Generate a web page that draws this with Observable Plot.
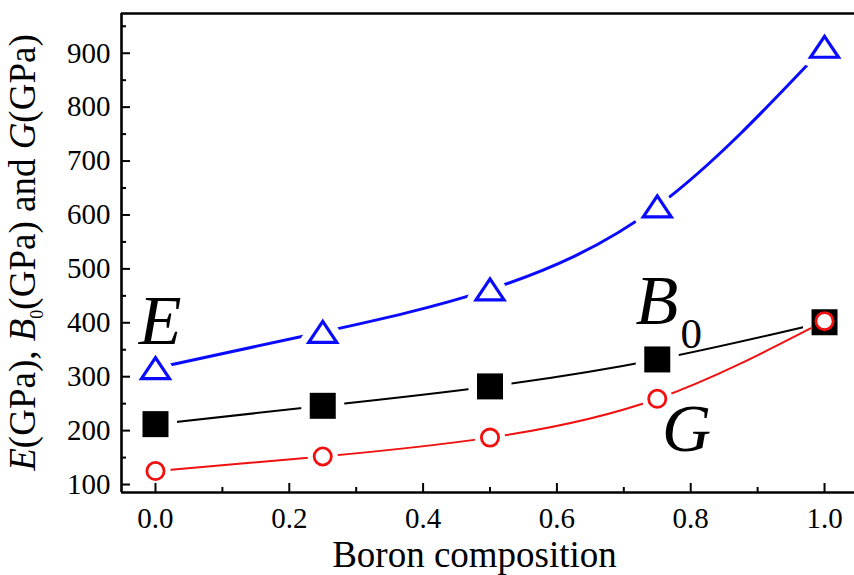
<!DOCTYPE html>
<html><head><meta charset="utf-8">
<script src="https://cdn.jsdelivr.net/npm/d3@7"></script>
<script src="https://cdn.jsdelivr.net/npm/@observablehq/plot@0.6"></script>
<style>body{margin:0;background:#fff} svg{display:block} svg text, svg tspan{font-family:"Liberation Serif","Times New Roman",serif !important;}</style>
</head><body><div id="chart"></div>
<script>
const boron = [0, 0.25, 0.5, 0.75, 1.0];
const E = [316, 383, 462, 616, 912];
const B0 = [212, 246, 282, 332, 401];
const G = [125, 152, 187, 259, 403];
const xMajor = [0, 0.2, 0.4, 0.6, 0.8, 1.0];
const xMinor = [0.1, 0.3, 0.5, 0.7, 0.9];
const yMajor = [100, 200, 300, 400, 500, 600, 700, 800, 900];
const yMinor = [150, 250, 350, 450, 550, 650, 750, 850, 950];

const rowsE = boron.map((b, i) => ({b, v: E[i]}));
const rowsB = boron.map((b, i) => ({b, v: B0[i]}));
const rowsG = boron.map((b, i) => ({b, v: G[i]}));

const X0 = -0.0508, X1 = 1.0448, Y0 = 85.2, Y1 = 973.7;
const FONT = "Liberation Serif, Times New Roman, serif";
const BLUE = "#0a0aff", RED = "#f01010";

const tri = {draw(ctx, size) { const r = Math.sqrt(size / Math.PI);
  ctx.moveTo(0, -0.75 * r); ctx.lineTo(r, 0.75 * r); ctx.lineTo(-r, 0.75 * r); ctx.closePath(); }};
const sq = {draw(ctx, size) { const r = Math.sqrt(size / Math.PI);
  ctx.rect(-r, -r, 2 * r, 2 * r); }};

const plot = Plot.plot({
  width: 854, height: 575,
  marginLeft: 121, marginRight: 0, marginTop: 13, marginBottom: 83,
  style: {fontFamily: FONT, background: "white", color: "black"},
  x: {domain: [X0, X1]},
  y: {domain: [Y0, Y1]},
  marks: [
    Plot.line(rowsB, {x: "b", y: "v", curve: "natural", stroke: "black", strokeWidth: 2}),
    Plot.dot(rowsB, {x: "b", y: "v", symbol: sq, r: 13, fill: "white", stroke: "white", strokeWidth: 17}),
    Plot.line(rowsG, {x: "b", y: "v", curve: "natural", stroke: RED, strokeWidth: 2}),
    Plot.dot(rowsG, {x: "b", y: "v", r: 8.6, fill: "white", stroke: "white", strokeWidth: 13}),
    Plot.line(rowsE, {x: "b", y: "v", curve: "natural", stroke: BLUE, strokeWidth: 3}),
    Plot.dot(rowsE, {x: "b", y: "v", symbol: tri, r: 14, fill: "white", stroke: "white", strokeWidth: 18, strokeLinejoin: "round"}),
    Plot.dot(rowsB, {x: "b", y: "v", symbol: sq, r: 13, fill: "black", stroke: "none"}),
    Plot.dot(rowsG, {x: "b", y: "v", r: 8.6, fill: "white", stroke: RED, strokeWidth: 2.8}),
    Plot.dot(rowsE, {x: "b", y: "v", symbol: tri, r: 14, fill: "none", stroke: BLUE, strokeWidth: 3.2}),
    // axes: ticks pointing inward
    Plot.axisX({ticks: xMajor, tickSize: 9, dy: -9, tickFormat: () => "", strokeWidth: 2, label: null}),
    Plot.axisX({ticks: xMinor, tickSize: 5, dy: -5, tickFormat: () => "", strokeWidth: 2, label: null}),
    Plot.axisX({ticks: xMajor, tickSize: 0, tickPadding: 15, tickFormat: d3.format(".1f"), fontSize: 29, fontFamily: FONT, fontVariant: "normal", label: null}),
    Plot.axisY({ticks: yMajor, tickSize: 9, dx: 9, tickFormat: () => "", strokeWidth: 2, label: null}),
    Plot.axisY({ticks: yMinor, tickSize: 5, dx: 5, tickFormat: () => "", strokeWidth: 2, label: null}),
    Plot.axisY({ticks: yMajor, tickSize: 0, tickPadding: 11, fontSize: 29, fontFamily: FONT, fontVariant: "normal", label: null}),
    Plot.ruleX([X0], {stroke: "black", strokeWidth: 2.6}),
    Plot.ruleY([Y0], {stroke: "black", strokeWidth: 2.6}),
    Plot.ruleY([Y1], {stroke: "black", strokeWidth: 2.6}),
    // annotations
    Plot.text(["E"], {x: -0.025, y: 361, text: d => d, textAnchor: "start", lineAnchor: "bottom", fontSize: 70, fontStyle: "italic", fontFamily: FONT, fill: "black"}),
    Plot.text(["B"], {x: 0.7175, y: 397, text: d => d, textAnchor: "start", lineAnchor: "bottom", fontSize: 70, fontStyle: "italic", fontFamily: FONT, fill: "black"}),
    Plot.text(["0"], {x: 0.7848, y: 354, text: d => d, textAnchor: "start", lineAnchor: "bottom", fontSize: 43, fontFamily: FONT, fill: "black"}),
    Plot.text(["G"], {x: 0.757, y: 162, text: d => d, textAnchor: "start", lineAnchor: "bottom", fontSize: 68, fontStyle: "italic", fontFamily: FONT, fill: "black"}),
    Plot.text(["Boron composition"], {frameAnchor: "bottom", dx: -13.5, dy: 74, lineAnchor: "bottom", fontSize: 37, fontFamily: FONT, fill: "black"})
  ]
});

// y-axis title with mixed italic and subscript
const svg = d3.select(plot);
const t = svg.append("text")
  .attr("transform", "translate(35,252.5) rotate(-90)")
  .attr("text-anchor", "middle")
  .attr("font-size", 37)
  .attr("fill", "black");
const parts = [
  ["E", "italic"], ["(GPa), ", "normal"], ["B", "italic"],
  ["0", "sub"], ["(GPa) and ", "normal"], ["G", "italic"], ["(GPa)", "normal"]
];
let shifted = false;
for (const [txt, kind] of parts) {
  const s = t.append("tspan").text(txt);
  if (kind === "italic") s.attr("font-style", "italic");
  if (kind === "sub") { s.attr("font-size", 18).attr("dy", 8); shifted = true; }
  else if (shifted) { s.attr("dy", -8); shifted = false; }
}
svg.selectAll("text, tspan").style("font-family", FONT);
document.getElementById("chart").appendChild(plot);
</script>
</body></html>
